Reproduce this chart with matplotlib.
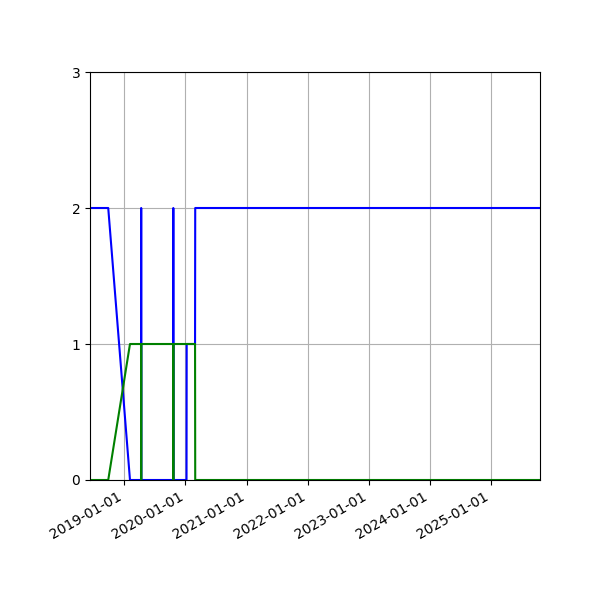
import pandas as pd
import matplotlib
matplotlib.use("Agg")
import matplotlib.pyplot as plt
import matplotlib.dates as mdates

blue_dates = ["2018-06-10", "2018-09-27", "2019-02-04", "2019-04-11", "2019-04-12",
              "2019-04-13", "2019-10-20", "2019-10-21", "2019-10-22", "2020-01-08",
              "2020-01-09", "2020-02-28", "2020-02-29", "2025-10-21"]
blue_values = [2, 2, 0, 0, 2, 0, 0, 2, 0, 0, 1, 1, 2, 2]

green_dates = ["2018-06-10", "2018-09-27", "2019-02-04", "2019-04-11", "2019-04-12",
               "2019-04-13", "2019-10-20", "2019-10-21", "2019-10-22", "2020-02-28",
               "2020-02-29", "2025-10-21"]
green_values = [0, 0, 1, 1, 0, 1, 1, 0, 1, 1, 0, 0]

y_ticks = [0, 1, 2, 3]

blue_x = pd.to_datetime(blue_dates)
green_x = pd.to_datetime(green_dates)

fig, ax = plt.subplots(figsize=(6, 6), dpi=100)
ax.plot(blue_x, blue_values, color="blue")
ax.plot(green_x, green_values, color="green")

ax.set_xlim(blue_x[0], blue_x[-1])
ax.set_ylim(0, 3)
ax.set_yticks(y_ticks)
ax.xaxis.set_major_locator(mdates.YearLocator())
ax.xaxis.set_major_formatter(mdates.DateFormatter("%Y-%m-%d"))
ax.grid(True)

fig.autofmt_xdate()
fig.subplots_adjust(left=0.15, right=0.9, top=0.88, bottom=0.2)
fig.savefig("out.png")
